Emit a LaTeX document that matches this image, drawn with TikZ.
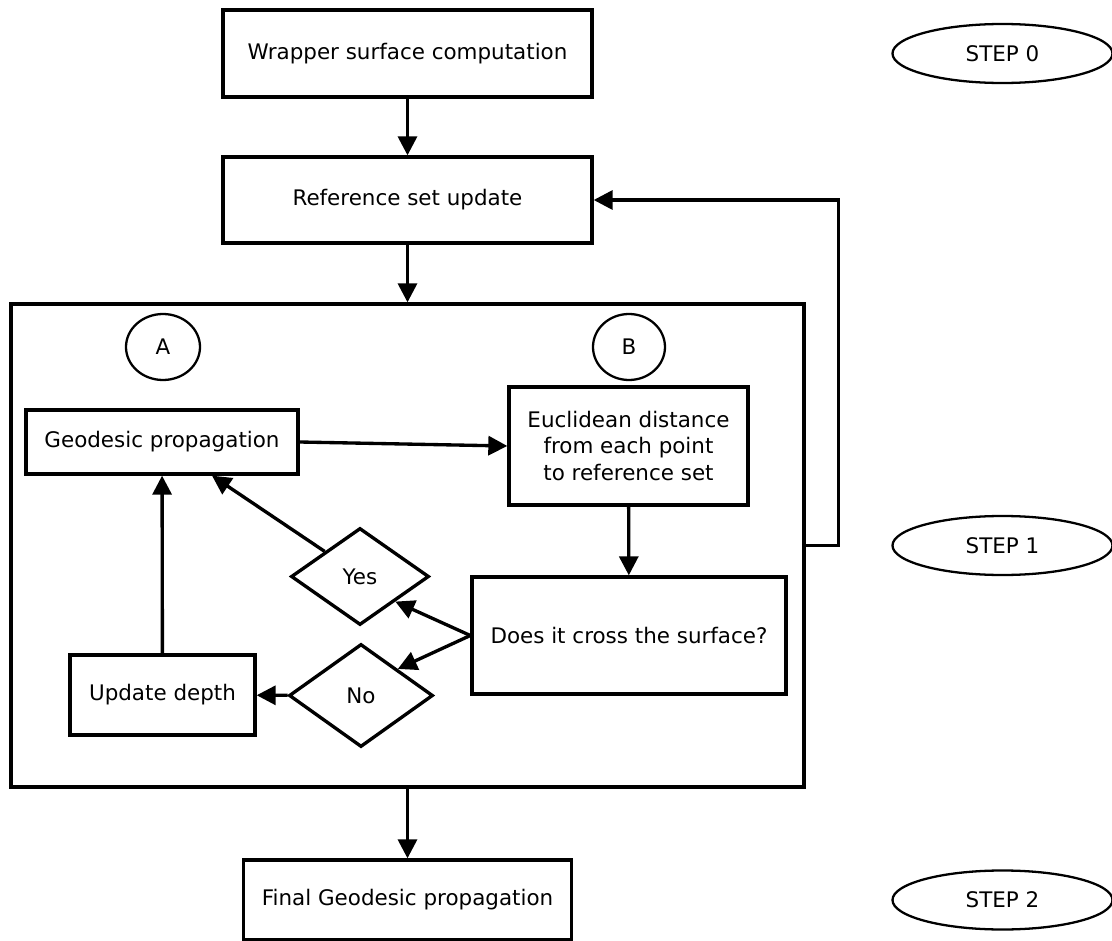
\documentclass[tikz,border=0pt]{standalone}
\usepackage{fontspec}
\setmainfont{DejaVu Sans}
\usetikzlibrary{arrows.meta,shapes.geometric}

\begin{document}
\begin{tikzpicture}[font=\fontsize{12.2}{15.3}\selectfont,
box/.style={draw,line width=1.9pt,align=center,inner sep=0pt},
round/.style={draw,ellipse,line width=1.3pt,inner sep=0pt},
choice/.style={draw,diamond,line width=1.9pt,inner sep=0pt},
flow/.style={line width=1.9pt,-{Triangle[length=0.38cm,width=0.38cm]}}]
\useasboundingbox (0,0) rectangle (22.24,-18.82);

\node[box,minimum width=7.38cm,minimum height=1.74cm] (wrap) at (8.15,-1.07) {Wrapper surface computation};
\node[box,minimum width=7.38cm,minimum height=1.72cm,below of=wrap,node distance=2.93cm] (ref) {Reference set update};
\node[box,minimum width=15.86cm,minimum height=9.66cm] (loop) at (8.15,-10.91) {};
\node[box,minimum width=6.56cm,minimum height=1.6cm,below of=loop,node distance=7.09cm] (final) {Final Geodesic propagation};

\node[round,minimum width=4.4cm,minimum height=1.18cm,right of=wrap,node distance=11.9cm] (s0) {STEP 0};
\node[round,minimum width=4.4cm,minimum height=1.18cm,right of=loop,node distance=11.9cm] (s1) {STEP 1};
\node[round,minimum width=4.4cm,minimum height=1.18cm,right of=final,node distance=11.9cm] (s2) {STEP 2};

% inner loop
\node[round,minimum width=1.48cm,minimum height=1.32cm] (A) at (3.26,-6.94) {A};
\node[round,minimum width=1.44cm,minimum height=1.32cm] (B) at (12.58,-6.94) {B};
\node[box,minimum width=5.44cm,minimum height=1.28cm] (geo) at (3.24,-8.84) {Geodesic propagation};
\node[box,minimum width=4.78cm,minimum height=2.36cm] (eucl) at (12.57,-8.92) {Euclidean distance\\from each point\\to reference set};
\node[box,minimum width=6.28cm,minimum height=2.34cm] (cross) at (12.58,-12.71) {Does it cross the surface?};
\node[choice,minimum width=2.76cm,minimum height=1.94cm] (yes) at (7.2,-11.53) {Yes};
\node[choice,minimum width=2.88cm,minimum height=2.06cm] (no) at (7.22,-13.91) {No};
\node[box,minimum width=3.7cm,minimum height=1.6cm] (upd) at (3.25,-13.9) {Update depth};

\draw[flow] (wrap) -- (ref);
\draw[flow] (ref) -- (loop);
\draw[flow] (loop) -- (final);
\draw[flow] (loop.east) -- ++(0.66,0) |- (ref.east);

\draw[flow] (geo.east) -- (eucl.west);
\draw[flow] (eucl) -- (cross);
\draw[flow] (cross.west) -- (yes.south east);
\draw[flow] (cross.west) -- (no.north east);
\draw[flow] (yes.north west) -- (geo);
\draw[flow] (no) -- (upd);
\draw[flow] (upd) -- (geo);

\end{tikzpicture}
\end{document}
